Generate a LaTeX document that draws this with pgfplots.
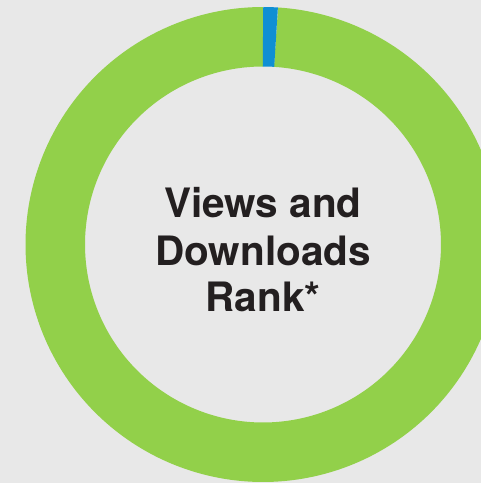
\documentclass[border=0pt]{standalone}
\usepackage{pgfplots}
\pgfplotsset{compat=1.18}
\usepackage{fontspec}
\setmainfont{TeX Gyre Heros}
\definecolor{bgc}{HTML}{E8E8E8}
\definecolor{grn}{HTML}{92D04A}
\definecolor{blu}{HTML}{0F8FD3}
\definecolor{txt}{HTML}{231F20}
% data: share of the ring (percent)
\def\valBlue{1}
\def\valGreen{99}
\begin{document}
\begin{tikzpicture}
\fill[bgc] (0,0) rectangle (481pt,483pt);
\begin{axis}[
  at={(0,0)}, anchor=south west,
  scale only axis, width=481pt, height=483pt,
  xmin=0, xmax=481, ymin=0, ymax=483,
  hide axis, clip=true,
]
\pgfmathsetmacro{\aA}{90}
\pgfmathsetmacro{\aB}{90-3.6*\valBlue}
\pgfmathsetmacro{\aC}{\aB-3.6*\valGreen}
\addplot[grn, line width=59.5pt, domain=\aB:\aC, samples=361, smooth]
  ({263+207.75*cos(x)},{238.5+207.75*sin(x)});
\addplot[blu, line width=59.5pt, domain=\aA:\aB, samples=10]
  ({263+207.75*cos(x)},{238.5+207.75*sin(x)});
\node[anchor=base, text=txt, font=\fontsize{40.5}{47}\selectfont\bfseries] at (axis cs:263,265) {Views and};
\node[anchor=base, text=txt, font=\fontsize{40.5}{47}\selectfont\bfseries] at (axis cs:263,217) {Downloads};
\node[anchor=base, text=txt, font=\fontsize{40.5}{47}\selectfont\bfseries] at (axis cs:263,171) {Rank*};
\end{axis}
\end{tikzpicture}
\end{document}
